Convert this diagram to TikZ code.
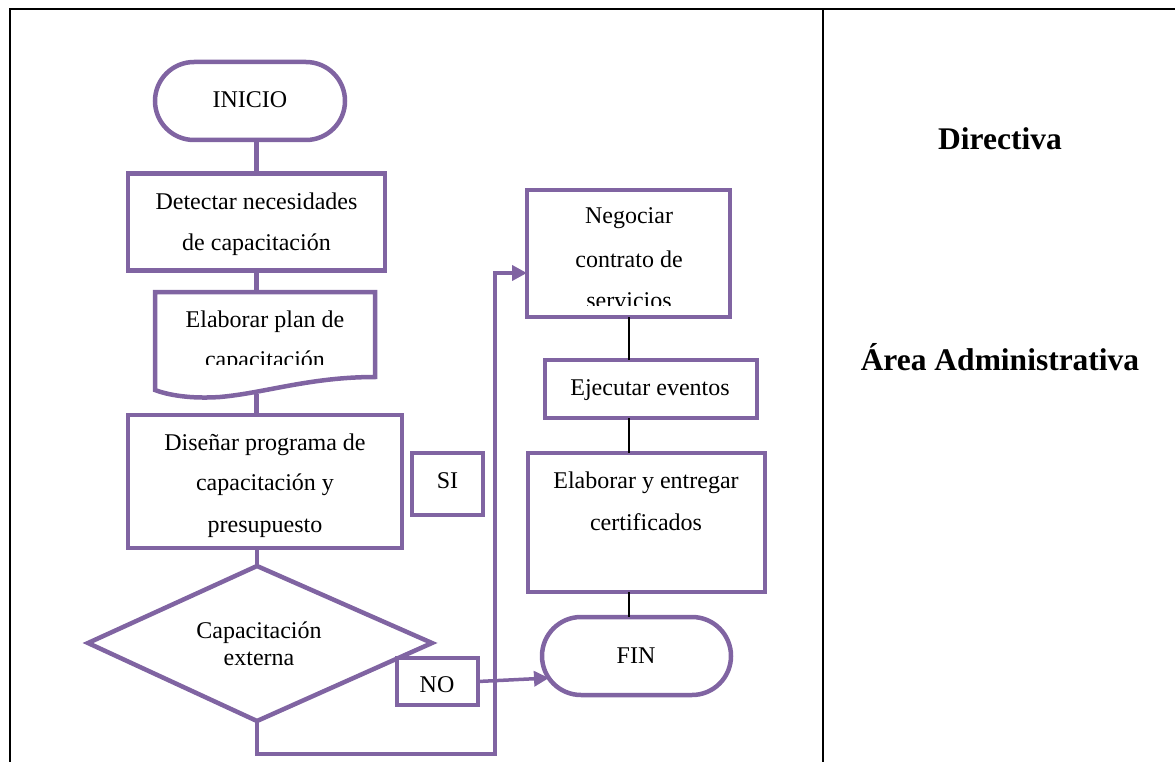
\documentclass[tikz,border=0pt]{standalone}
\usepackage{fontspec}
\setmainfont{Liberation Serif}
\usetikzlibrary{arrows.meta}
\definecolor{flowpurple}{RGB}{128,100,162}
\begin{document}
\begin{tikzpicture}[x=1pt,y=-1pt,
  box/.style={draw=flowpurple, line width=4.5pt, fill=white, inner sep=0pt, outer sep=0pt},
  terminal/.style={box, rounded corners=39pt, minimum height=78pt},
  txt/.style={anchor=base, inner sep=0pt, font=\fontsize{24}{28}\selectfont},
  lane/.style={anchor=base, inner sep=0pt, font=\fontsize{31.5}{36}\selectfont\bfseries},
  flowline/.style={draw=flowpurple, line width=4.5pt},
  flowarrow/.style={draw=flowpurple, line width=4.5pt, -{Triangle[length=15pt,width=15pt]}},
  thinlink/.style={draw=black, line width=2pt},
  frame/.style={draw=black, line width=2.5pt}
]
\useasboundingbox (0,0) rectangle (1175,762);

% table frame
\draw[frame] (10,770) -- (10,9) -- (1180,9);
\draw[frame] (823,9) -- (823,770);

% connector anchors
\coordinate (planN) at (256.5,292);
\coordinate (planS) at (256.5,394);
\coordinate (decN) at (257,566);
\coordinate (decE) at (432,643);
\coordinate (decS) at (257,721);
\coordinate (decW) at (88,643);
\coordinate (loopBR) at (495,754);
\coordinate (negin) at (527,273);
\coordinate (finin) at (549,678);

% left column: boxes
\node[terminal, minimum width=190pt] (inicio) at (250,101) {};
\node[box, minimum width=257pt, minimum height=97pt] (det) at (256.5,222) {};
\draw[box] (155,292) -- (375,292) -- (375,377)
  .. controls (310,377) and (265,393) .. (220,397)
  .. controls (190,399) and (168,395) .. (155,390) -- cycle;
\node[box, minimum width=274pt, minimum height=133pt] (dis) at (265,481.5) {};
\node[box, minimum width=71pt, minimum height=62pt] (si) at (447.5,484) {};
\draw[box] (decN) -- (decE) -- (decS) -- (decW) -- cycle;

% left column: links
\draw[flowline] (inicio.south -| det.north) -- (det.north);
\draw[flowline] (det.south) -- (planN);
\draw[flowline] (planS) -- (planS |- dis.north);
\draw[flowline] (dis.south -| decN) -- (decN);
\draw[flowarrow] (decS) |- (loopBR) |- (negin);

\node[box, minimum width=81pt, minimum height=47pt] (no) at (437.5,681.5) {};

% right column
\node[box, minimum width=203pt, minimum height=127pt] (neg) at (628.5,253.5) {};
\node[box, minimum width=212pt, minimum height=58pt] (eje) at (651,389) {};
\node[box, minimum width=237pt, minimum height=139pt] (cert) at (646.5,522.5) {};
\node[terminal, minimum width=189pt] (fin) at (636.5,656) {};

\draw[thinlink] (neg.south) -- (neg.south |- eje.north);
\draw[thinlink] (neg.south |- eje.south) -- (neg.south |- cert.north);
\draw[thinlink] (neg.south |- cert.south) -- (neg.south |- fin.north);
\draw[flowarrow, line width=3.5pt] (no.east) -- (finin);

% texts
\node[txt] (tinicio) at (250,108) {INICIO};
\node[txt] (tdet1) at (256.5,210) {Detectar necesidades};
\node[txt] (tdet2) at (256.5,250) {de capacitación};
\begin{scope}
  \clip (150,290) rectangle (380,364.5);
  \node[txt] (tplan1) at (265,327) {Elaborar plan de};
  \node[txt] (tplan2) at (265,367) {capacitación};
\end{scope}
\node[txt] (tdis1) at (265,450) {Diseñar programa de};
\node[txt] (tdis2) at (265,490) {capacitación y};
\node[txt] (tdis3) at (265,532) {presupuesto};
\node[txt] (tsi) at (447.5,488) {SI};
\node[txt] (tdec1) at (259,638) {Capacitación};
\node[txt] (tdec2) at (259,665) {externa};
\node[txt] (tno) at (437,692) {NO};
\begin{scope}
  \clip (520,185) rectangle (740,305);
  \node[txt] (tneg1) at (629,223) {Negociar};
  \node[txt] (tneg2) at (629,267) {contrato de};
  \node[txt] (tneg3) at (629,308) {servicios};
\end{scope}
\node[txt] (teje) at (650,395) {Ejecutar eventos};
\node[txt] (tcert1) at (646,488) {Elaborar y entregar};
\node[txt] (tcert2) at (646,530) {certificados};
\node[txt] (tfin) at (636,663) {FIN};

\node[lane] (ldir) at (1000,150) {Directiva};
\node[lane] (ladm) at (1000,370) {Área Administrativa};
\end{tikzpicture}
\end{document}
